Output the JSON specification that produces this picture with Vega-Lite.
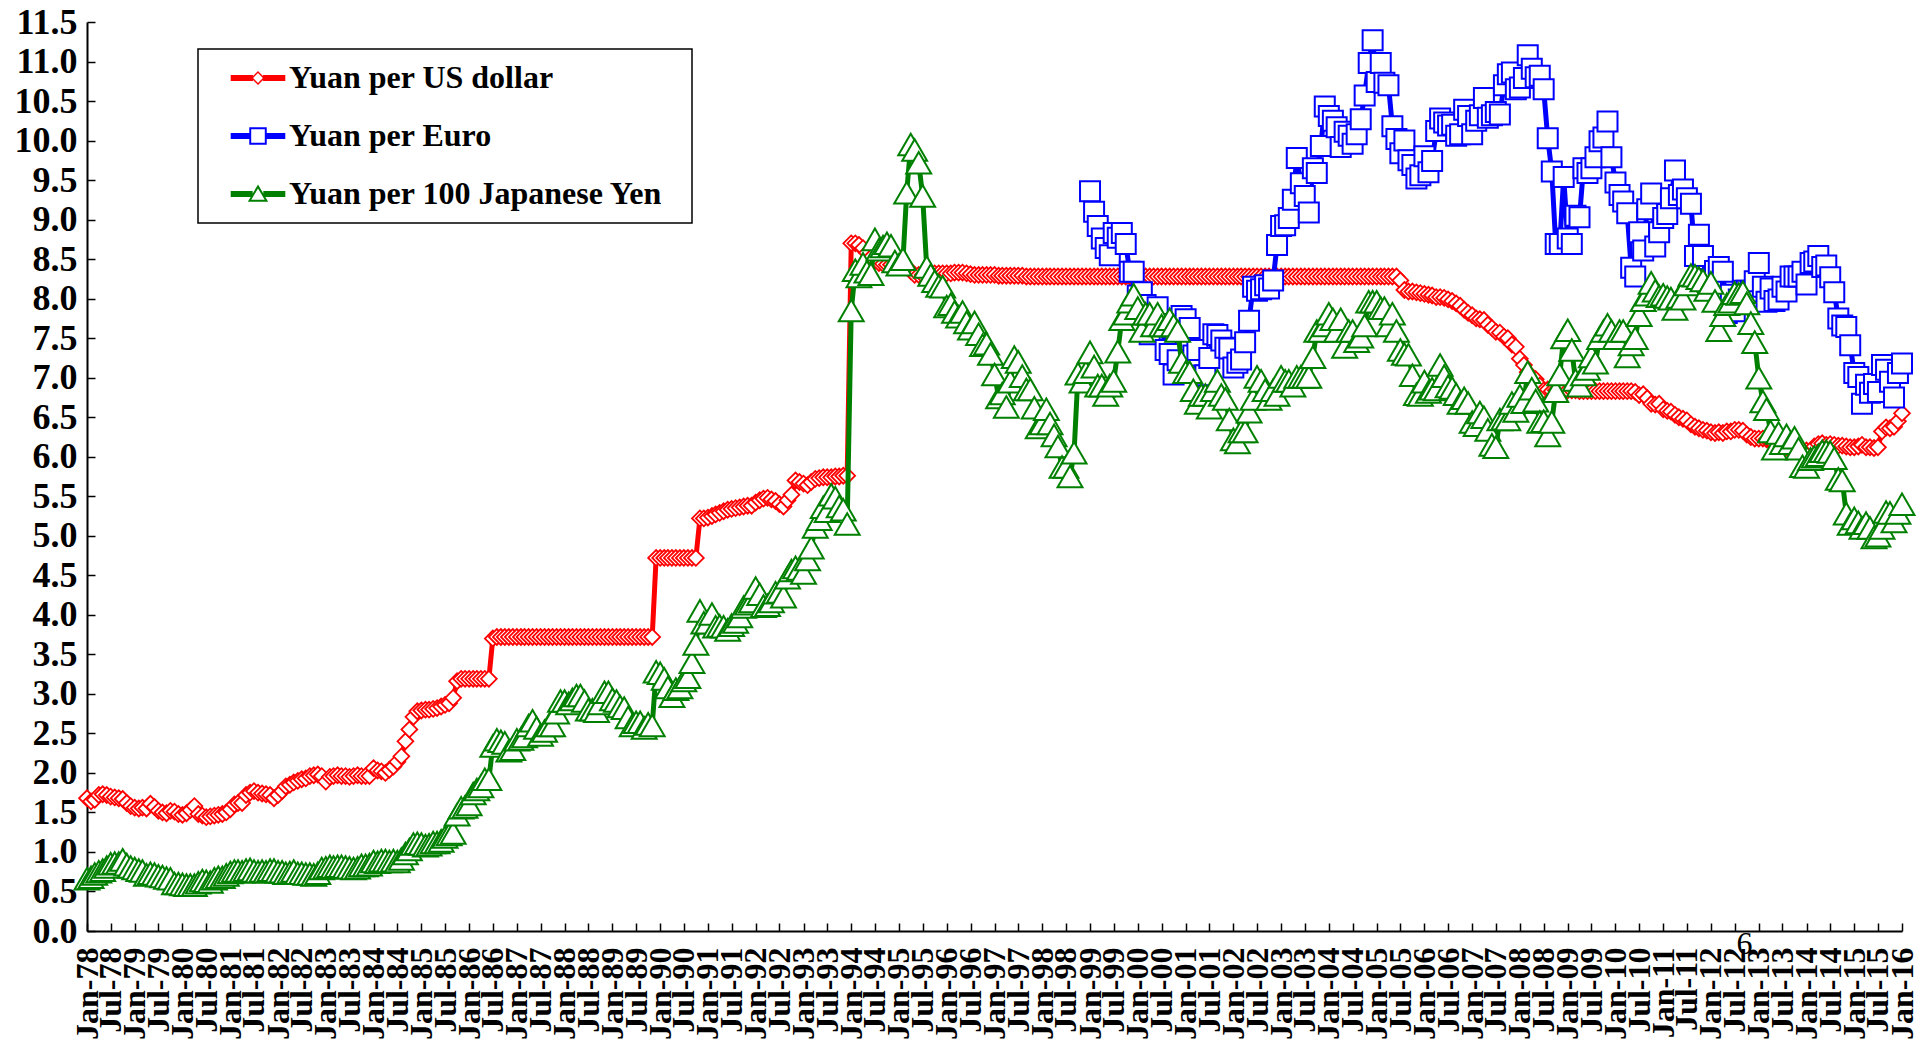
{
"$schema": "https://vega.github.io/schema/vega-lite/v6.json",
"width": 1815, "height": 909,
"autosize": {"type": "none"},
"padding": {"left": 87, "top": 22, "right": 18, "bottom": 112},
"background": "white",
"config": {"view": {"stroke": null}, "font": "Liberation Serif"},
"data": {"values": [
{"d":"1978-01","u":1.68,"j":0.66},{"d":"1978-02","u":1.64,"j":0.68},{"d":"1978-03","u":1.66,"j":0.72},{"d":"1978-04","u":1.72,"j":0.75},{"d":"1978-05","u":1.73,"j":0.77},{"d":"1978-06","u":1.72,"j":0.81},{"d":"1978-07","u":1.70,"j":0.85},{"d":"1978-08","u":1.69,"j":0.86},{"d":"1978-09","u":1.68,"j":0.86},{"d":"1978-10","u":1.67,"j":0.90},{"d":"1978-11","u":1.62,"j":0.84},{"d":"1978-12","u":1.58,"j":0.81},
{"d":"1979-01","u":1.56,"j":0.79},{"d":"1979-02","u":1.55,"j":0.77},{"d":"1979-03","u":1.56,"j":0.76},{"d":"1979-04","u":1.55,"j":0.71},{"d":"1979-05","u":1.61,"j":0.73},{"d":"1979-06","u":1.57,"j":0.72},{"d":"1979-07","u":1.52,"j":0.70},{"d":"1979-08","u":1.50,"j":0.69},{"d":"1979-09","u":1.49,"j":0.67},{"d":"1979-10","u":1.52,"j":0.66},{"d":"1979-11","u":1.51,"j":0.60},{"d":"1979-12","u":1.48,"j":0.60},
{"d":"1980-01","u":1.47,"j":0.59},{"d":"1980-02","u":1.49,"j":0.58},{"d":"1980-03","u":1.53,"j":0.58},{"d":"1980-04","u":1.58,"j":0.58},{"d":"1980-05","u":1.48,"j":0.61},{"d":"1980-06","u":1.46,"j":0.64},{"d":"1980-07","u":1.44,"j":0.63},{"d":"1980-08","u":1.45,"j":0.62},{"d":"1980-09","u":1.46,"j":0.66},{"d":"1980-10","u":1.47,"j":0.68},{"d":"1980-11","u":1.48,"j":0.68},{"d":"1980-12","u":1.50,"j":0.71},
{"d":"1981-01","u":1.54,"j":0.74},{"d":"1981-02","u":1.60,"j":0.76},{"d":"1981-03","u":1.62,"j":0.76},{"d":"1981-04","u":1.62,"j":0.75},{"d":"1981-05","u":1.72,"j":0.77},{"d":"1981-06","u":1.75,"j":0.78},{"d":"1981-07","u":1.77,"j":0.76},{"d":"1981-08","u":1.75,"j":0.75},{"d":"1981-09","u":1.74,"j":0.76},{"d":"1981-10","u":1.73,"j":0.75},{"d":"1981-11","u":1.72,"j":0.77},{"d":"1981-12","u":1.68,"j":0.77},
{"d":"1982-01","u":1.72,"j":0.75},{"d":"1982-02","u":1.77,"j":0.75},{"d":"1982-03","u":1.83,"j":0.73},{"d":"1982-04","u":1.85,"j":0.74},{"d":"1982-05","u":1.88,"j":0.76},{"d":"1982-06","u":1.90,"j":0.73},{"d":"1982-07","u":1.92,"j":0.73},{"d":"1982-08","u":1.93,"j":0.72},{"d":"1982-09","u":1.96,"j":0.72},{"d":"1982-10","u":1.97,"j":0.71},{"d":"1982-11","u":1.98,"j":0.73},{"d":"1982-12","u":1.96,"j":0.79},
{"d":"1983-01","u":1.89,"j":0.80},{"d":"1983-02","u":1.95,"j":0.82},{"d":"1983-03","u":1.96,"j":0.81},{"d":"1983-04","u":1.97,"j":0.82},{"d":"1983-05","u":1.96,"j":0.82},{"d":"1983-06","u":1.96,"j":0.81},{"d":"1983-07","u":1.95,"j":0.80},{"d":"1983-08","u":1.96,"j":0.79},{"d":"1983-09","u":1.97,"j":0.80},{"d":"1983-10","u":1.96,"j":0.83},{"d":"1983-11","u":1.96,"j":0.83},{"d":"1983-12","u":1.96,"j":0.84},
{"d":"1984-01","u":2.06,"j":0.88},{"d":"1984-02","u":2.03,"j":0.87},{"d":"1984-03","u":2.02,"j":0.89},{"d":"1984-04","u":2.00,"j":0.89},{"d":"1984-05","u":2.04,"j":0.88},{"d":"1984-06","u":2.08,"j":0.89},{"d":"1984-07","u":2.14,"j":0.88},{"d":"1984-08","u":2.21,"j":0.91},{"d":"1984-09","u":2.40,"j":0.98},{"d":"1984-10","u":2.55,"j":1.03},{"d":"1984-11","u":2.71,"j":1.10},{"d":"1984-12","u":2.78,"j":1.11},
{"d":"1985-01","u":2.79,"j":1.10},{"d":"1985-02","u":2.80,"j":1.08},{"d":"1985-03","u":2.80,"j":1.09},{"d":"1985-04","u":2.81,"j":1.12},{"d":"1985-05","u":2.82,"j":1.12},{"d":"1985-06","u":2.84,"j":1.14},{"d":"1985-07","u":2.86,"j":1.19},{"d":"1985-08","u":2.88,"j":1.22},{"d":"1985-09","u":2.95,"j":1.24},{"d":"1985-10","u":3.16,"j":1.47},{"d":"1985-11","u":3.19,"j":1.56},{"d":"1985-12","u":3.19,"j":1.57},
{"d":"1986-01","u":3.19,"j":1.60},{"d":"1986-02","u":3.19,"j":1.74},{"d":"1986-03","u":3.19,"j":1.79},{"d":"1986-04","u":3.19,"j":1.83},{"d":"1986-05","u":3.19,"j":1.92},{"d":"1986-06","u":3.19,"j":1.92},{"d":"1986-07","u":3.70,"j":2.34},{"d":"1986-08","u":3.72,"j":2.42},{"d":"1986-09","u":3.72,"j":2.40},{"d":"1986-10","u":3.72,"j":2.38},{"d":"1986-11","u":3.72,"j":2.28},{"d":"1986-12","u":3.72,"j":2.30},
{"d":"1987-01","u":3.72,"j":2.42},{"d":"1987-02","u":3.72,"j":2.43},{"d":"1987-03","u":3.72,"j":2.46},{"d":"1987-04","u":3.72,"j":2.60},{"d":"1987-05","u":3.72,"j":2.66},{"d":"1987-06","u":3.72,"j":2.57},{"d":"1987-07","u":3.72,"j":2.48},{"d":"1987-08","u":3.72,"j":2.53},{"d":"1987-09","u":3.72,"j":2.60},{"d":"1987-10","u":3.72,"j":2.60},{"d":"1987-11","u":3.72,"j":2.76},{"d":"1987-12","u":3.72,"j":2.91},
{"d":"1988-01","u":3.72,"j":2.91},{"d":"1988-02","u":3.72,"j":2.88},{"d":"1988-03","u":3.72,"j":2.93},{"d":"1988-04","u":3.72,"j":2.98},{"d":"1988-05","u":3.72,"j":2.98},{"d":"1988-06","u":3.72,"j":2.91},{"d":"1988-07","u":3.72,"j":2.80},{"d":"1988-08","u":3.72,"j":2.80},{"d":"1988-09","u":3.72,"j":2.78},{"d":"1988-10","u":3.72,"j":2.88},{"d":"1988-11","u":3.72,"j":3.02},{"d":"1988-12","u":3.72,"j":3.02},
{"d":"1989-01","u":3.72,"j":2.93},{"d":"1989-02","u":3.72,"j":2.91},{"d":"1989-03","u":3.72,"j":2.84},{"d":"1989-04","u":3.72,"j":2.82},{"d":"1989-05","u":3.72,"j":2.70},{"d":"1989-06","u":3.72,"j":2.60},{"d":"1989-07","u":3.72,"j":2.64},{"d":"1989-08","u":3.72,"j":2.64},{"d":"1989-09","u":3.72,"j":2.57},{"d":"1989-10","u":3.72,"j":2.62},{"d":"1989-11","u":3.72,"j":2.60},{"d":"1989-12","u":4.72,"j":3.28},
{"d":"1990-01","u":4.72,"j":3.26},{"d":"1990-02","u":4.72,"j":3.19},{"d":"1990-03","u":4.72,"j":3.08},{"d":"1990-04","u":4.72,"j":2.97},{"d":"1990-05","u":4.72,"j":3.06},{"d":"1990-06","u":4.72,"j":3.08},{"d":"1990-07","u":4.72,"j":3.17},{"d":"1990-08","u":4.72,"j":3.21},{"d":"1990-09","u":4.72,"j":3.40},{"d":"1990-10","u":4.72,"j":3.63},{"d":"1990-11","u":5.22,"j":4.05},{"d":"1990-12","u":5.22,"j":3.90},
{"d":"1991-01","u":5.23,"j":3.90},{"d":"1991-02","u":5.25,"j":4.01},{"d":"1991-03","u":5.27,"j":3.85},{"d":"1991-04","u":5.29,"j":3.86},{"d":"1991-05","u":5.31,"j":3.85},{"d":"1991-06","u":5.33,"j":3.81},{"d":"1991-07","u":5.34,"j":3.87},{"d":"1991-08","u":5.35,"j":3.91},{"d":"1991-09","u":5.36,"j":3.98},{"d":"1991-10","u":5.37,"j":4.10},{"d":"1991-11","u":5.38,"j":4.14},{"d":"1991-12","u":5.38,"j":4.17},
{"d":"1992-01","u":5.42,"j":4.34},{"d":"1992-02","u":5.45,"j":4.26},{"d":"1992-03","u":5.47,"j":4.11},{"d":"1992-04","u":5.48,"j":4.12},{"d":"1992-05","u":5.46,"j":4.17},{"d":"1992-06","u":5.44,"j":4.28},{"d":"1992-07","u":5.40,"j":4.29},{"d":"1992-08","u":5.37,"j":4.23},{"d":"1992-09","u":5.45,"j":4.47},{"d":"1992-10","u":5.52,"j":4.56},{"d":"1992-11","u":5.70,"j":4.60},{"d":"1992-12","u":5.68,"j":4.58},
{"d":"1993-01","u":5.66,"j":4.53},{"d":"1993-02","u":5.64,"j":4.70},{"d":"1993-03","u":5.68,"j":4.85},{"d":"1993-04","u":5.72,"j":5.11},{"d":"1993-05","u":5.73,"j":5.21},{"d":"1993-06","u":5.74,"j":5.36},{"d":"1993-07","u":5.74,"j":5.31},{"d":"1993-08","u":5.74,"j":5.52},{"d":"1993-09","u":5.75,"j":5.48},{"d":"1993-10","u":5.75,"j":5.37},{"d":"1993-11","u":5.76,"j":5.33},{"d":"1993-12","u":5.76,"j":5.15},
{"d":"1994-01","u":8.70,"j":7.85},{"d":"1994-02","u":8.70,"j":8.36},{"d":"1994-03","u":8.68,"j":8.28},{"d":"1994-04","u":8.64,"j":8.44},{"d":"1994-05","u":8.58,"j":8.34},{"d":"1994-06","u":8.52,"j":8.31},{"d":"1994-07","u":8.48,"j":8.75},{"d":"1994-08","u":8.45,"j":8.62},{"d":"1994-09","u":8.44,"j":8.66},{"d":"1994-10","u":8.43,"j":8.70},{"d":"1994-11","u":8.43,"j":8.67},{"d":"1994-12","u":8.43,"j":8.47},
{"d":"1995-01","u":8.43,"j":8.43},{"d":"1995-02","u":8.42,"j":8.50},{"d":"1995-03","u":8.40,"j":9.34},{"d":"1995-04","u":8.35,"j":9.95},{"d":"1995-05","u":8.30,"j":9.88},{"d":"1995-06","u":8.30,"j":9.72},{"d":"1995-07","u":8.30,"j":9.30},{"d":"1995-08","u":8.31,"j":8.40},{"d":"1995-09","u":8.32,"j":8.30},{"d":"1995-10","u":8.32,"j":8.22},{"d":"1995-11","u":8.32,"j":8.16},{"d":"1995-12","u":8.32,"j":8.15},
{"d":"1996-01","u":8.32,"j":7.90},{"d":"1996-02","u":8.32,"j":7.93},{"d":"1996-03","u":8.33,"j":7.83},{"d":"1996-04","u":8.33,"j":7.77},{"d":"1996-05","u":8.33,"j":7.83},{"d":"1996-06","u":8.32,"j":7.70},{"d":"1996-07","u":8.31,"j":7.62},{"d":"1996-08","u":8.30,"j":7.70},{"d":"1996-09","u":8.30,"j":7.55},{"d":"1996-10","u":8.30,"j":7.41},{"d":"1996-11","u":8.30,"j":7.43},{"d":"1996-12","u":8.30,"j":7.30},
{"d":"1997-01","u":8.30,"j":7.04},{"d":"1997-02","u":8.29,"j":6.75},{"d":"1997-03","u":8.29,"j":6.80},{"d":"1997-04","u":8.29,"j":6.63},{"d":"1997-05","u":8.29,"j":6.95},{"d":"1997-06","u":8.29,"j":7.26},{"d":"1997-07","u":8.29,"j":7.20},{"d":"1997-08","u":8.29,"j":7.02},{"d":"1997-09","u":8.28,"j":6.85},{"d":"1997-10","u":8.28,"j":6.85},{"d":"1997-11","u":8.28,"j":6.62},{"d":"1997-12","u":8.28,"j":6.37},
{"d":"1998-01","u":8.28,"j":6.42},{"d":"1998-02","u":8.28,"j":6.60},{"d":"1998-03","u":8.28,"j":6.42},{"d":"1998-04","u":8.28,"j":6.27},{"d":"1998-05","u":8.28,"j":6.13},{"d":"1998-06","u":8.28,"j":5.87},{"d":"1998-07","u":8.28,"j":5.87},{"d":"1998-08","u":8.28,"j":5.75},{"d":"1998-09","u":8.28,"j":6.05},{"d":"1998-10","u":8.28,"j":7.05},{"d":"1998-11","u":8.28,"j":6.95},{"d":"1998-12","u":8.28,"j":7.07},
{"d":"1999-01","u":8.28,"e":9.36,"j":7.32},{"d":"1999-02","u":8.28,"e":9.10,"j":7.14},{"d":"1999-03","u":8.28,"e":8.92,"j":6.90},{"d":"1999-04","u":8.28,"e":8.76,"j":6.90},{"d":"1999-05","u":8.28,"e":8.64,"j":6.78},{"d":"1999-06","u":8.28,"e":8.55,"j":6.90},{"d":"1999-07","u":8.28,"e":8.83,"j":6.96},{"d":"1999-08","u":8.28,"e":8.77,"j":7.33},{"d":"1999-09","u":8.28,"e":8.83,"j":7.74},{"d":"1999-10","u":8.28,"e":8.69,"j":7.81},{"d":"1999-11","u":8.28,"e":8.34,"j":7.96},{"d":"1999-12","u":8.28,"e":8.34,"j":8.05},
{"d":"2000-01","u":8.28,"e":8.04,"j":7.88},{"d":"2000-02","u":8.28,"e":8.08,"j":7.59},{"d":"2000-03","u":8.28,"e":7.92,"j":7.81},{"d":"2000-04","u":8.28,"e":7.55,"j":7.81},{"d":"2000-05","u":8.28,"e":7.74,"j":7.66},{"d":"2000-06","u":8.28,"e":7.89,"j":7.81},{"d":"2000-07","u":8.28,"e":7.68,"j":7.66},{"d":"2000-08","u":8.28,"e":7.35,"j":7.66},{"d":"2000-09","u":8.28,"e":7.30,"j":7.74},{"d":"2000-10","u":8.28,"e":7.04,"j":7.66},{"d":"2000-11","u":8.28,"e":7.22,"j":7.59},{"d":"2000-12","u":8.28,"e":7.78,"j":7.20},
{"d":"2001-01","u":8.28,"e":7.74,"j":7.07},{"d":"2001-02","u":8.28,"e":7.63,"j":7.07},{"d":"2001-03","u":8.28,"e":7.28,"j":6.84},{"d":"2001-04","u":8.28,"e":7.35,"j":6.68},{"d":"2001-05","u":8.28,"e":7.01,"j":6.78},{"d":"2001-06","u":8.28,"e":7.03,"j":6.78},{"d":"2001-07","u":8.28,"e":7.25,"j":6.62},{"d":"2001-08","u":8.28,"e":7.55,"j":6.84},{"d":"2001-09","u":8.28,"e":7.54,"j":6.96},{"d":"2001-10","u":8.28,"e":7.47,"j":6.78},{"d":"2001-11","u":8.28,"e":7.38,"j":6.73},{"d":"2001-12","u":8.28,"e":7.37,"j":6.47},
{"d":"2002-01","u":8.28,"e":7.13,"j":6.22},{"d":"2002-02","u":8.28,"e":7.19,"j":6.18},{"d":"2002-03","u":8.28,"e":7.23,"j":6.32},{"d":"2002-04","u":8.28,"e":7.45,"j":6.32},{"d":"2002-05","u":8.28,"e":7.72,"j":6.57},{"d":"2002-06","u":8.28,"e":8.15,"j":6.73},{"d":"2002-07","u":8.28,"e":8.10,"j":7.01},{"d":"2002-08","u":8.28,"e":8.12,"j":6.96},{"d":"2002-09","u":8.28,"e":8.17,"j":6.84},{"d":"2002-10","u":8.28,"e":8.13,"j":6.73},{"d":"2002-11","u":8.28,"e":8.23,"j":6.84},{"d":"2002-12","u":8.28,"e":8.68,"j":6.78},
{"d":"2003-01","u":8.28,"e":8.92,"j":7.01},{"d":"2003-02","u":8.28,"e":8.93,"j":6.96},{"d":"2003-03","u":8.28,"e":9.02,"j":6.96},{"d":"2003-04","u":8.28,"e":9.25,"j":6.90},{"d":"2003-05","u":8.28,"e":9.78,"j":7.01},{"d":"2003-06","u":8.28,"e":9.46,"j":7.01},{"d":"2003-07","u":8.28,"e":9.30,"j":7.01},{"d":"2003-08","u":8.28,"e":9.09,"j":7.01},{"d":"2003-09","u":8.28,"e":9.65,"j":7.26},{"d":"2003-10","u":8.28,"e":9.59,"j":7.59},{"d":"2003-11","u":8.28,"e":9.93,"j":7.59},{"d":"2003-12","u":8.28,"e":10.43,"j":7.66},
{"d":"2004-01","u":8.28,"e":10.31,"j":7.81},{"d":"2004-02","u":8.28,"e":10.25,"j":7.74},{"d":"2004-03","u":8.28,"e":10.17,"j":7.59},{"d":"2004-04","u":8.28,"e":9.92,"j":7.74},{"d":"2004-05","u":8.28,"e":10.11,"j":7.39},{"d":"2004-06","u":8.28,"e":10.06,"j":7.59},{"d":"2004-07","u":8.28,"e":9.96,"j":7.59},{"d":"2004-08","u":8.28,"e":10.08,"j":7.46},{"d":"2004-09","u":8.28,"e":10.27,"j":7.52},{"d":"2004-10","u":8.28,"e":10.57,"j":7.66},{"d":"2004-11","u":8.28,"e":10.98,"j":7.96},{"d":"2004-12","u":8.28,"e":11.27,"j":7.96},
{"d":"2005-01","u":8.28,"e":10.74,"j":7.96},{"d":"2005-02","u":8.28,"e":10.98,"j":7.88},{"d":"2005-03","u":8.28,"e":10.73,"j":7.88},{"d":"2005-04","u":8.28,"e":10.70,"j":7.66},{"d":"2005-05","u":8.28,"e":10.18,"j":7.81},{"d":"2005-06","u":8.28,"e":10.02,"j":7.59},{"d":"2005-07","u":8.23,"e":9.84,"j":7.35},{"d":"2005-08","u":8.11,"e":10.00,"j":7.30},{"d":"2005-09","u":8.09,"e":9.75,"j":7.29},{"d":"2005-10","u":8.09,"e":9.69,"j":7.03},{"d":"2005-11","u":8.08,"e":9.52,"j":6.79},{"d":"2005-12","u":8.07,"e":9.56,"j":6.78},
{"d":"2006-01","u":8.06,"e":9.80,"j":6.95},{"d":"2006-02","u":8.05,"e":9.60,"j":6.82},{"d":"2006-03","u":8.04,"e":9.74,"j":6.86},{"d":"2006-04","u":8.02,"e":10.12,"j":6.85},{"d":"2006-05","u":8.02,"e":10.28,"j":7.16},{"d":"2006-06","u":8.01,"e":10.23,"j":7.02},{"d":"2006-07","u":7.99,"e":10.19,"j":6.89},{"d":"2006-08","u":7.97,"e":10.20,"j":6.87},{"d":"2006-09","u":7.94,"e":10.06,"j":6.79},{"d":"2006-10","u":7.91,"e":10.08,"j":6.68},{"d":"2006-11","u":7.86,"e":10.39,"j":6.74},{"d":"2006-12","u":7.82,"e":10.31,"j":6.68},
{"d":"2007-01","u":7.79,"e":10.08,"j":6.44},{"d":"2007-02","u":7.75,"e":10.25,"j":6.40},{"d":"2007-03","u":7.74,"e":10.32,"j":6.56},{"d":"2007-04","u":7.73,"e":10.54,"j":6.50},{"d":"2007-05","u":7.67,"e":10.29,"j":6.34},{"d":"2007-06","u":7.63,"e":10.32,"j":6.15},{"d":"2007-07","u":7.58,"e":10.36,"j":6.12},{"d":"2007-08","u":7.57,"e":10.33,"j":6.47},{"d":"2007-09","u":7.52,"e":10.70,"j":6.48},{"d":"2007-10","u":7.50,"e":10.84,"j":6.47},{"d":"2007-11","u":7.42,"e":10.86,"j":6.68},{"d":"2007-12","u":7.39,"e":10.65,"j":6.58},
{"d":"2008-01","u":7.24,"e":10.67,"j":6.77},{"d":"2008-02","u":7.16,"e":10.79,"j":6.69},{"d":"2008-03","u":7.07,"e":11.08,"j":7.07},{"d":"2008-04","u":7.00,"e":10.91,"j":6.86},{"d":"2008-05","u":6.98,"e":10.80,"j":6.71},{"d":"2008-06","u":6.90,"e":10.82,"j":6.44},{"d":"2008-07","u":6.84,"e":10.65,"j":6.45},{"d":"2008-08","u":6.85,"e":10.03,"j":6.27},{"d":"2008-09","u":6.83,"e":9.61,"j":6.44},{"d":"2008-10","u":6.84,"e":8.69,"j":6.83},{"d":"2008-11","u":6.83,"e":8.69,"j":7.04},{"d":"2008-12","u":6.85,"e":9.54,"j":7.51},
{"d":"2009-01","u":6.84,"e":8.76,"j":7.60},{"d":"2009-02","u":6.84,"e":8.69,"j":7.35},{"d":"2009-03","u":6.84,"e":9.05,"j":6.97},{"d":"2009-04","u":6.83,"e":9.03,"j":6.90},{"d":"2009-05","u":6.83,"e":9.65,"j":7.04},{"d":"2009-06","u":6.83,"e":9.59,"j":7.11},{"d":"2009-07","u":6.83,"e":9.65,"j":7.27},{"d":"2009-08","u":6.83,"e":9.79,"j":7.19},{"d":"2009-09","u":6.83,"e":9.99,"j":7.50},{"d":"2009-10","u":6.83,"e":10.04,"j":7.59},{"d":"2009-11","u":6.83,"e":10.24,"j":7.67},{"d":"2009-12","u":6.83,"e":9.79,"j":7.59},
{"d":"2010-01","u":6.83,"e":9.47,"j":7.50},{"d":"2010-02","u":6.83,"e":9.31,"j":7.59},{"d":"2010-03","u":6.83,"e":9.23,"j":7.59},{"d":"2010-04","u":6.83,"e":9.08,"j":7.27},{"d":"2010-05","u":6.83,"e":8.39,"j":7.42},{"d":"2010-06","u":6.82,"e":8.28,"j":7.50},{"d":"2010-07","u":6.78,"e":8.84,"j":7.79},{"d":"2010-08","u":6.79,"e":8.61,"j":7.98},{"d":"2010-09","u":6.74,"e":9.13,"j":8.05},{"d":"2010-10","u":6.67,"e":9.33,"j":8.20},{"d":"2010-11","u":6.66,"e":8.66,"j":8.10},{"d":"2010-12","u":6.67,"e":8.84,"j":8.03},
{"d":"2011-01","u":6.60,"e":9.02,"j":8.05},{"d":"2011-02","u":6.58,"e":9.07,"j":8.02},{"d":"2011-03","u":6.57,"e":9.27,"j":8.00},{"d":"2011-04","u":6.53,"e":9.62,"j":7.87},{"d":"2011-05","u":6.50,"e":9.31,"j":8.02},{"d":"2011-06","u":6.48,"e":9.38,"j":8.00},{"d":"2011-07","u":6.46,"e":9.27,"j":8.18},{"d":"2011-08","u":6.41,"e":9.20,"j":8.30},{"d":"2011-09","u":6.38,"e":8.54,"j":8.29},{"d":"2011-10","u":6.36,"e":8.81,"j":8.26},{"d":"2011-11","u":6.34,"e":8.54,"j":8.23},{"d":"2011-12","u":6.33,"e":8.17,"j":8.11},
{"d":"2012-01","u":6.31,"e":8.25,"j":8.20},{"d":"2012-02","u":6.30,"e":8.35,"j":7.97},{"d":"2012-03","u":6.31,"e":8.40,"j":7.60},{"d":"2012-04","u":6.30,"e":8.34,"j":7.79},{"d":"2012-05","u":6.32,"e":7.82,"j":7.93},{"d":"2012-06","u":6.32,"e":8.05,"j":7.96},{"d":"2012-07","u":6.34,"e":7.84,"j":8.07},{"d":"2012-08","u":6.34,"e":7.99,"j":8.06},{"d":"2012-09","u":6.33,"e":8.10,"j":8.08},{"d":"2012-10","u":6.28,"e":8.10,"j":7.94},{"d":"2012-11","u":6.25,"e":8.09,"j":7.69},{"d":"2012-12","u":6.23,"e":8.22,"j":7.45},
{"d":"2013-01","u":6.23,"e":8.45,"j":7.00},{"d":"2013-02","u":6.23,"e":8.15,"j":6.70},{"d":"2013-03","u":6.22,"e":7.96,"j":6.60},{"d":"2013-04","u":6.19,"e":8.13,"j":6.32},{"d":"2013-05","u":6.16,"e":7.97,"j":6.10},{"d":"2013-06","u":6.15,"e":7.99,"j":6.30},{"d":"2013-07","u":6.13,"e":8.15,"j":6.17},{"d":"2013-08","u":6.12,"e":8.09,"j":6.27},{"d":"2013-09","u":6.12,"e":8.28,"j":6.17},{"d":"2013-10","u":6.10,"e":8.28,"j":6.24},{"d":"2013-11","u":6.09,"e":8.28,"j":6.10},{"d":"2013-12","u":6.08,"e":8.34,"j":5.88},
{"d":"2014-01","u":6.08,"e":8.18,"j":5.87},{"d":"2014-02","u":6.06,"e":8.45,"j":5.97},{"d":"2014-03","u":6.13,"e":8.47,"j":6.00},{"d":"2014-04","u":6.16,"e":8.54,"j":6.02},{"d":"2014-05","u":6.17,"e":8.40,"j":6.07},{"d":"2014-06","u":6.15,"e":8.42,"j":6.07},{"d":"2014-07","u":6.16,"e":8.27,"j":6.06},{"d":"2014-08","u":6.15,"e":8.08,"j":5.98},{"d":"2014-09","u":6.14,"e":7.75,"j":5.72},{"d":"2014-10","u":6.14,"e":7.66,"j":5.70},{"d":"2014-11","u":6.13,"e":7.64,"j":5.28},{"d":"2014-12","u":6.12,"e":7.41,"j":5.15},
{"d":"2015-01","u":6.12,"e":7.06,"j":5.22},{"d":"2015-02","u":6.13,"e":7.01,"j":5.17},{"d":"2015-03","u":6.15,"e":6.67,"j":5.10},{"d":"2015-04","u":6.12,"e":6.91,"j":5.16},{"d":"2015-05","u":6.12,"e":6.81,"j":5.10},{"d":"2015-06","u":6.11,"e":6.92,"j":4.98},{"d":"2015-07","u":6.12,"e":6.82,"j":5.00},{"d":"2015-08","u":6.32,"e":7.16,"j":5.10},{"d":"2015-09","u":6.37,"e":7.10,"j":5.30},{"d":"2015-10","u":6.36,"e":6.95,"j":5.29},{"d":"2015-11","u":6.38,"e":6.75,"j":5.18},{"d":"2015-12","u":6.45,"e":7.06,"j":5.29},
{"d":"2016-01","u":6.55,"e":7.18,"j":5.40},
{"d":"2012-09-13","t":"6","v":-0.16}
]},
"encoding": {
"x": {"field": "d", "type": "temporal", "scale": {"type": "utc", "nice": false, "padding": 0},
"axis": {"title": null, "format": "%b-%y", "tickCount": {"interval": "month", "step": 6}, "labelAngle": -90, "labelFont": "Liberation Serif", "labelFontWeight": "bold", "labelFontSize": 32, "labelColor": "black", "labelOverlap": false, "labelFlush": false, "labelBound": false, "labelPadding": 24, "tickSize": -8, "tickColor": "black", "tickWidth": 1.5, "domainColor": "black", "domainWidth": 2, "grid": false}},
"y": {"field": "v", "type": "quantitative", "scale": {"domain": [0, 11.5], "nice": false, "zero": false},
"axis": {"title": null, "values": [0,0.5,1,1.5,2,2.5,3,3.5,4,4.5,5,5.5,6,6.5,7,7.5,8,8.5,9,9.5,10,10.5,11,11.5], "format": ".1f", "labelFont": "Liberation Serif", "labelFontWeight": "bold", "labelFontSize": 36, "labelColor": "black", "labelPadding": 18, "labelFlush": false, "labelOverlap": false, "labelBound": false, "tickSize": -8, "tickColor": "black", "tickWidth": 1.5, "domainColor": "black", "domainWidth": 2, "grid": false}}
},
"layer": [
{
"transform": [{"fold": ["u", "e", "j"], "as": ["s", "v"]}, {"filter": "isValid(datum.v)"}],
"encoding": {
"color": {"field": "s", "type": "nominal", "scale": {"domain": ["u", "e", "j"], "range": ["#FF0000", "#0000FF", "#008000"]},
"legend": {"title": null, "orient": "none", "legendX": 111, "legendY": 27, "direction": "vertical",
"labelFont": "Liberation Serif", "labelFontWeight": "bold", "labelFontSize": 32, "labelColor": "black", "labelLimit": 1000,
"labelExpr": "(datum.value == 'u' ? 'Yuan per US dollar' : datum.value == 'e' ? 'Yuan per Euro' : 'Yuan per 100 Japanese Yen') + '\u00a0\u00a0\u200b'",
"strokeColor": "black", "fillColor": "white", "padding": 13, "rowPadding": 26,
"symbolSize": 196, "symbolOffset": 31, "labelOffset": 15, "symbolStrokeWidth": 0,
"encode": {
"symbols": {"update": {
"shape": {"signal": "datum.value == 'u' ? 'M-3.9,-0.43H-0.72V0.43H-3.9ZM0.72,-0.43H3.9V0.43H0.72ZM0,-1L1,0L0,1L-1,0ZM0,-0.7L-0.7,0L0,0.7L0.7,0Z' : datum.value == 'e' ? 'M-3.9,-0.43H-1.05V0.43H-3.9ZM1.05,-0.43H3.9V0.43H1.05ZM-1.25,-1.25H1.25V1.25H-1.25ZM-0.97,-0.97V0.97H0.97V-0.97Z' : 'M-3.9,-0.43H-0.76V0.43H-3.9ZM0.76,-0.43H3.9V0.43H0.76ZM0,-1.35L1.45,1.1H-1.45ZM0,-0.8L-0.96,0.82H0.96Z'"},
"fill": {"scale": "color", "field": "value"},
"fillOpacity": {"value": 1}, "opacity": {"value": 1},
"stroke": {"value": "transparent"}, "strokeWidth": {"value": 0}, "size": {"value": 196}}},
"legend": {"update": {"strokeWidth": {"value": 1.5}}}
}}}
},
"layer": [
{"transform": [{"filter": "datum.s == 'u'"}], "mark": {"type": "line", "strokeWidth": 5, "point": {"filled": false, "fill": "white", "fillOpacity": 1, "shape": "diamond", "size": 250, "strokeWidth": 1.8}}},
{"transform": [{"filter": "datum.s == 'e'"}], "mark": {"type": "line", "strokeWidth": 5, "point": {"filled": false, "fill": "white", "fillOpacity": 1, "shape": "square", "size": 400, "strokeWidth": 2}}},
{"transform": [{"filter": "datum.s == 'j'"}], "mark": {"type": "line", "strokeWidth": 5, "point": {"filled": false, "fill": "white", "fillOpacity": 1, "shape": "triangle-up", "size": 620, "strokeWidth": 2}}}
]
},
{
"transform": [{"filter": "isValid(datum.t)"}],
"mark": {"type": "text", "font": "Liberation Serif", "fontSize": 32, "align": "center", "baseline": "middle", "color": "black"},
"encoding": {"text": {"field": "t"}}
}
]
}
